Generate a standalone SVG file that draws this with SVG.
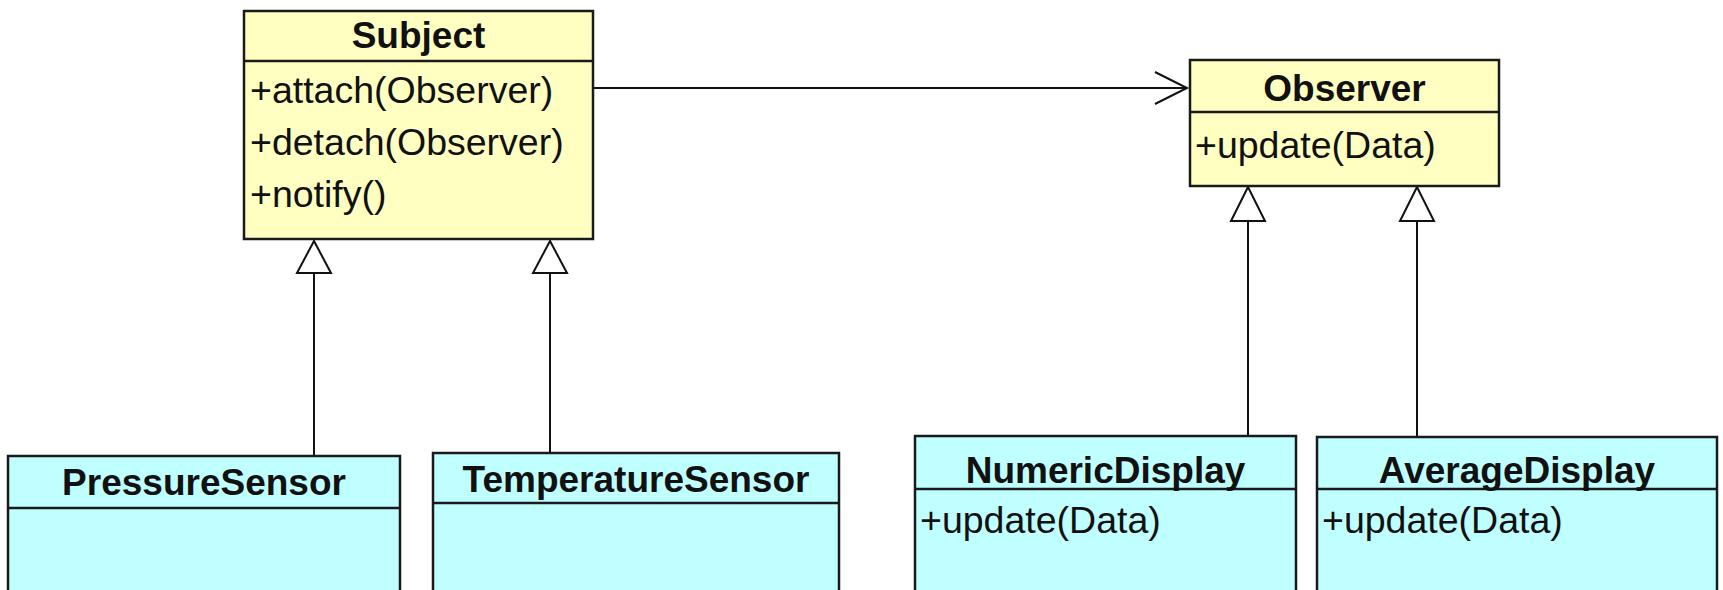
<svg xmlns="http://www.w3.org/2000/svg" width="1723" height="590" viewBox="0 0 1723 590">
<style>
.y{fill:#FFFFC2;stroke:#1a1a1a;stroke-width:2.5}
.c{fill:#C0FFFF;stroke:#1a1a1a;stroke-width:2.5}
.d{stroke:#1a1a1a;stroke-width:2.5;fill:none}
.t{font-family:"Liberation Sans",Arial,sans-serif;font-size:37px;font-weight:bold;fill:#111;text-anchor:middle}
.m{font-family:"Liberation Sans",Arial,sans-serif;font-size:37.5px;fill:#111}
.ln{stroke:#111;stroke-width:2;fill:none}
.tri{fill:#fff;stroke:#111;stroke-width:2}
</style>
<rect width="1723" height="590" fill="#fff"/>
<g id="connectors">
<line class="ln" x1="593" y1="88" x2="1187" y2="88"/>
<polyline class="ln" points="1155,72 1187,88 1155,104"/>
<line class="ln" x1="314" y1="273" x2="314" y2="456"/>
<polygon class="tri" points="314,241 297,273 331,273"/>
<line class="ln" x1="550" y1="273" x2="550" y2="453"/>
<polygon class="tri" points="550,241 533,273 567,273"/>
<line class="ln" x1="1248" y1="221" x2="1248" y2="436"/>
<polygon class="tri" points="1248,187 1231,221 1265,221"/>
<line class="ln" x1="1417" y1="221" x2="1417" y2="437"/>
<polygon class="tri" points="1417,187 1400,221 1434,221"/>
</g>
<g id="Subject">
<rect class="y" x="244" y="11" width="349" height="228"/>
<line class="d" x1="244" y1="61" x2="593" y2="61"/>
<text class="t" x="418.5" y="48">Subject</text>
<text class="m" x="250" y="103">+attach(Observer)</text>
<text class="m" x="250" y="155">+detach(Observer)</text>
<text class="m" x="250" y="207">+notify()</text>
</g>
<g id="Observer">
<rect class="y" x="1190" y="60" width="309" height="126"/>
<line class="d" x1="1190" y1="112" x2="1499" y2="112"/>
<text class="t" x="1344.5" y="101">Observer</text>
<text class="m" x="1195" y="158">+update(Data)</text>
</g>
<g id="PressureSensor">
<rect class="c" x="8" y="456" width="392" height="150"/>
<line class="d" x1="8" y1="508" x2="400" y2="508"/>
<text class="t" x="204" y="495">PressureSensor</text>
</g>
<g id="TemperatureSensor">
<rect class="c" x="433" y="453" width="406" height="150"/>
<line class="d" x1="433" y1="503" x2="839" y2="503"/>
<text class="t" x="636" y="492">TemperatureSensor</text>
</g>
<g id="NumericDisplay">
<rect class="c" x="915" y="436" width="381" height="170"/>
<line class="d" x1="915" y1="489" x2="1296" y2="489"/>
<text class="t" x="1105.5" y="483">NumericDisplay</text>
<text class="m" x="920" y="533">+update(Data)</text>
</g>
<g id="AverageDisplay">
<rect class="c" x="1317" y="437" width="400" height="170"/>
<line class="d" x1="1317" y1="489" x2="1717" y2="489"/>
<text class="t" x="1517" y="483">AverageDisplay</text>
<text class="m" x="1322" y="533">+update(Data)</text>
</g>
</svg>
